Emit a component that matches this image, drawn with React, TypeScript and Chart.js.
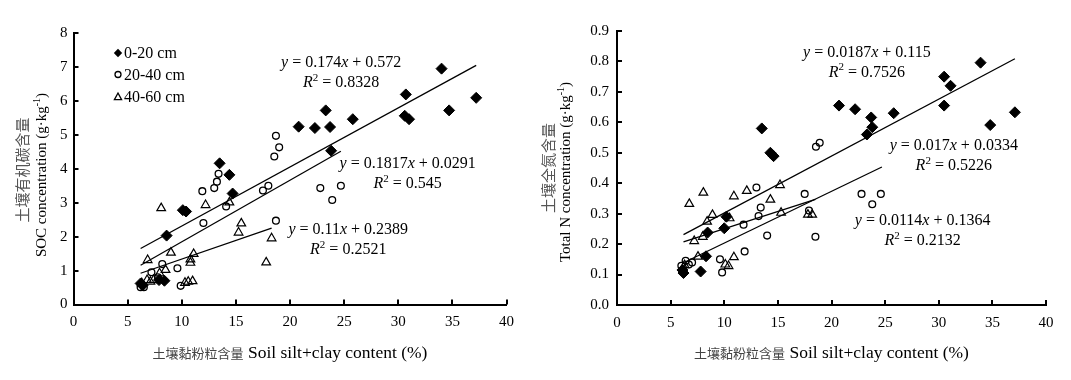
import React, { useEffect, useRef } from 'react';
import { Chart, registerables } from 'chart.js';

Chart.register(...registerables);

const SERIF = '"Liberation Serif", "Times New Roman", serif';
const CJK = '"Noto Sans CJK SC", "Noto Sans CJK TC", sans-serif';

// ---------- data ----------
const depthLabels = ['0-20 cm', '20-40 cm', '40-60 cm'];

// Soil organic carbon (g·kg-1) vs silt+clay content (%)
const socX020 = [6.2, 6.4, 7.9, 8.4, 8.6, 10.1, 10.4, 13.5, 14.4, 14.7, 20.8, 22.3, 23.3, 23.7, 23.8, 25.8, 30.6, 30.7, 31.0, 34.0, 34.7, 37.2];
const socY020 = [0.62, 0.57, 0.72, 0.70, 2.03, 2.78, 2.74, 4.16, 3.82, 3.27, 5.24, 5.20, 5.72, 5.23, 4.53, 5.46, 5.56, 6.19, 5.46, 6.95, 5.72, 6.09];
const socX2040 = [6.2, 6.5, 7.2, 7.8, 8.2, 9.6, 9.9, 11.9, 12.0, 13.0, 13.25, 13.4, 14.1, 17.5, 18.0, 18.55, 18.7, 18.7, 19.0, 22.8, 23.9, 24.7];
const socY2040 = [0.51, 0.51, 0.95, 0.80, 1.19, 1.07, 0.55, 3.34, 2.40, 3.43, 3.62, 3.85, 2.89, 3.36, 3.50, 4.36, 4.97, 2.47, 4.63, 3.43, 3.08, 3.50];
const socX4060 = [6.3, 6.8, 6.85, 7.1, 7.4, 7.95, 8.1, 8.5, 9.0, 10.3, 10.6, 10.8, 10.8, 11.0, 11.1, 12.2, 14.4, 15.25, 15.5, 17.8, 18.3];
const socY4060 = [0.63, 0.72, 1.31, 0.67, 0.72, 0.92, 2.84, 1.02, 1.53, 0.64, 0.67, 1.33, 1.23, 0.69, 1.49, 2.93, 3.01, 2.12, 2.39, 1.24, 1.95];

const socFitSlope = [0.174, 0.1817, 0.11];
const socFitIntercept = [0.572, 0.0291, 0.2389];
const socFitR2 = ['0.8328', '0.545', '0.2521'];
const socFitXStart = [6.2, 6.2, 6.2];
const socFitXEnd = [37.2, 24.7, 18.3];
const socEqAnchorX = [24.73, 30.87, 25.38];
const socEqAnchorY = [7.11, 4.14, 2.195];

// Total N (g·kg-1) vs silt+clay content (%)
const tnX020 = [6.1, 6.2, 7.8, 8.3, 8.45, 10.0, 10.2, 13.5, 14.3, 14.6, 20.7, 22.2, 23.3, 23.7, 23.8, 25.8, 30.5, 30.5, 31.1, 33.9, 34.8, 37.1];
const tnY020 = [0.115, 0.105, 0.11, 0.16, 0.238, 0.252, 0.29, 0.58, 0.50, 0.489, 0.655, 0.643, 0.56, 0.616, 0.584, 0.63, 0.75, 0.655, 0.72, 0.796, 0.591, 0.633];
const tnX2040 = [6.0, 6.4, 6.7, 7.0, 9.6, 9.8, 11.8, 11.9, 13.0, 13.2, 13.4, 14.0, 17.5, 17.9, 18.5, 18.55, 18.9, 22.8, 23.8, 24.6];
const tnY2040 = [0.129, 0.145, 0.133, 0.14, 0.15, 0.107, 0.264, 0.176, 0.386, 0.292, 0.32, 0.228, 0.365, 0.31, 0.224, 0.52, 0.533, 0.365, 0.331, 0.365];
const tnX4060 = [6.3, 6.74, 7.2, 7.55, 8.0, 8.05, 8.4, 8.9, 10.1, 10.4, 10.5, 10.9, 10.9, 12.1, 14.3, 15.2, 15.3, 17.8, 18.2];
const tnY4060 = [0.131, 0.332, 0.21, 0.159, 0.224, 0.369, 0.274, 0.296, 0.133, 0.128, 0.285, 0.357, 0.157, 0.375, 0.346, 0.394, 0.303, 0.297, 0.297];

const tnFitSlope = [0.0187, 0.017, 0.0114];
const tnFitIntercept = [0.115, 0.0334, 0.1364];
const tnFitR2 = ['0.7526', '0.5226', '0.2132'];
const tnFitXStart = [6.2, 6.2, 6.2];
const tnFitXEnd = [37.1, 24.7, 18.5];
const tnEqAnchorX = [23.3, 31.4, 28.5];
const tnEqAnchorY = [0.83, 0.522, 0.277];

const xTitleCn = '土壤黏粉粒含量';
const xTitleEn = ' Soil silt+clay content (%)';

// ---------- helpers ----------
type Seg = { text: string; font: string; dy?: number; color?: string };

function drawRich(ctx: CanvasRenderingContext2D, segs: Seg[], x: number, y: number) {
  let total = 0;
  const widths = segs.map((s) => {
    ctx.font = s.font;
    const w = ctx.measureText(s.text).width;
    total += w;
    return w;
  });
  let cx = x - total / 2;
  ctx.textBaseline = 'middle';
  ctx.textAlign = 'left';
  segs.forEach((s, i) => {
    ctx.font = s.font;
    ctx.fillStyle = s.color || '#000';
    ctx.fillText(s.text, cx, y + (s.dy || 0));
    cx += widths[i];
  });
}

function zip(xs: number[], ys: number[]) {
  return xs.map((x, i) => ({ x, y: ys[i] }));
}

const pointStyles = [
  { pointStyle: 'rectRot', pointRadius: 5.5, backgroundColor: '#000', borderColor: '#000', borderWidth: 1 },
  { pointStyle: 'circle', pointRadius: 3.4, backgroundColor: 'rgba(255,255,255,0)', borderColor: '#000', borderWidth: 1.3 },
  { pointStyle: 'triangle', pointRadius: 5, backgroundColor: 'rgba(255,255,255,0)', borderColor: '#000', borderWidth: 1.2 },
];

type PanelDef = {
  xs: number[][];
  ys: number[][];
  slope: number[];
  intercept: number[];
  r2: string[];
  x0: number[];
  x1: number[];
  eqX: number[];
  eqY: number[];
  yMax: number;
  yStep: number;
  yDecimals: number;
  yTitleCn: string;
  yTitleEn: string;
  legend: boolean;
  width: number;
  padLeftAxis: number;
  padRight: number;
  padTop: number;
  xAxisHeight: number;
  yTickPad: number;
  cnTitleX: number;
  enTitleX: number;
  cnTitleY: number;
  enTitleY: number;
};

function makeDecor(def: PanelDef) {
  return {
    id: 'decor',
    afterDraw(chart: any) {
      const ctx: CanvasRenderingContext2D = chart.ctx;
      const area = chart.chartArea;
      const xs = chart.scales.x;
      const ys = chart.scales.y;
      ctx.save();
      // inward tick marks
      ctx.strokeStyle = '#000';
      ctx.lineWidth = 2;
      ctx.beginPath();
      xs.ticks.forEach((t: any) => {
        const px = Math.round(xs.getPixelForValue(t.value));
        ctx.moveTo(px, area.bottom);
        ctx.lineTo(px, area.bottom - 5);
      });
      ys.ticks.forEach((t: any) => {
        const py = Math.round(ys.getPixelForValue(t.value));
        ctx.moveTo(area.left, py);
        ctx.lineTo(area.left + 5, py);
      });
      ctx.stroke();

      // regression equations
      const eqFont = `16px ${SERIF}`;
      const itFont = `italic 16px ${SERIF}`;
      const supFont = `11px ${SERIF}`;
      def.slope.forEach((m, i) => {
        const px = xs.getPixelForValue(def.eqX[i]);
        const py = ys.getPixelForValue(def.eqY[i]);
        drawRich(ctx, [
          { text: 'y', font: itFont },
          { text: ` = ${String(m)}`, font: eqFont },
          { text: 'x', font: itFont },
          { text: ` + ${String(def.intercept[i])}`, font: eqFont },
        ], px, py);
        drawRich(ctx, [
          { text: 'R', font: itFont },
          { text: '2', font: supFont, dy: -5 },
          { text: ` = ${def.r2[i]}`, font: eqFont },
        ], px, py + 20);
      });

      // legend
      if (def.legend) {
        const mx = area.left + 44.5;
        const rows = [area.top + 20, area.top + 41.5, area.top + 64];
        rows.forEach((ry, i) => {
          ctx.beginPath();
          ctx.lineWidth = 1.3;
          if (i === 0) {
            ctx.moveTo(mx - 4.2, ry);
            ctx.lineTo(mx, ry - 4.2);
            ctx.lineTo(mx + 4.2, ry);
            ctx.lineTo(mx, ry + 4.2);
            ctx.closePath();
            ctx.fillStyle = '#000';
            ctx.fill();
          } else if (i === 1) {
            ctx.arc(mx, ry, 3, 0, Math.PI * 2);
            ctx.stroke();
          } else {
            ctx.moveTo(mx, ry - 4);
            ctx.lineTo(mx + 3.6, ry + 2.6);
            ctx.lineTo(mx - 3.6, ry + 2.6);
            ctx.closePath();
            ctx.stroke();
          }
          ctx.font = `16px ${SERIF}`;
          ctx.fillStyle = '#000';
          ctx.textAlign = 'left';
          ctx.textBaseline = 'middle';
          ctx.fillText(depthLabels[i], mx + 6, ry + 1);
        });
      }

      // x-axis title
      drawRich(ctx, [
        { text: xTitleCn, font: `13px ${CJK}`, color: '#444' },
        { text: xTitleEn, font: `17.5px ${SERIF}` },
      ], (area.left + area.right) / 2, 353);

      // y-axis titles (rotated)
      ctx.save();
      ctx.translate(def.cnTitleX, def.cnTitleY);
      ctx.rotate(-Math.PI / 2);
      drawRich(ctx, [{ text: def.yTitleCn, font: `15px ${CJK}`, color: '#555' }], 0, 0);
      ctx.restore();
      ctx.save();
      ctx.translate(def.enTitleX, def.enTitleY);
      ctx.rotate(-Math.PI / 2);
      drawRich(ctx, [
        { text: def.yTitleEn + ' (g·kg', font: `15px ${SERIF}` },
        { text: '-1', font: `10px ${SERIF}`, dy: -5 },
        { text: ')', font: `15px ${SERIF}` },
      ], 0, 0);
      ctx.restore();
      ctx.restore();
    },
  };
}

function buildConfig(def: PanelDef): any {
  const scatterSets = def.xs.map((xArr, i) => ({
    type: 'scatter',
    label: depthLabels[i],
    data: zip(xArr, def.ys[i]),
    ...pointStyles[i],
    order: 1,
  }));
  const fitSets = def.slope.map((m, i) => ({
    type: 'line',
    label: `fit ${depthLabels[i]}`,
    data: [
      { x: def.x0[i], y: m * def.x0[i] + def.intercept[i] },
      { x: def.x1[i], y: m * def.x1[i] + def.intercept[i] },
    ],
    borderColor: '#000',
    borderWidth: 1.3,
    pointRadius: 0,
    fill: false,
    showLine: true,
    order: 2,
  }));
  return {
    type: 'scatter',
    data: { datasets: [...scatterSets, ...fitSets] },
    options: {
      animation: false,
      responsive: false,
      devicePixelRatio: 1,
      layout: { padding: { left: 0, right: def.padRight, top: def.padTop, bottom: 0 } },
      plugins: { legend: { display: false }, tooltip: { enabled: false } },
      scales: {
        x: {
          type: 'linear',
          min: 0,
          max: 40,
          ticks: { stepSize: 5, color: '#000', font: { family: SERIF, size: 15 }, padding: 9, maxRotation: 0 },
          grid: { drawOnChartArea: false, drawTicks: false },
          border: { display: true, color: '#000', width: 2 },
          afterFit: (s: any) => { s.height = def.xAxisHeight; },
        },
        y: {
          type: 'linear',
          min: 0,
          max: def.yMax,
          ticks: {
            stepSize: def.yStep,
            color: '#000',
            font: { family: SERIF, size: 15 },
            padding: def.yTickPad,
            callback: (v: any) => Number(v).toFixed(def.yDecimals),
          },
          grid: { drawOnChartArea: false, drawTicks: false },
          border: { display: true, color: '#000', width: 2 },
          afterFit: (s: any) => { s.width = def.padLeftAxis; },
        },
      },
    },
    plugins: [makeDecor(def)],
  };
}

const leftDef: PanelDef = {
  xs: [socX020, socX2040, socX4060],
  ys: [socY020, socY2040, socY4060],
  slope: socFitSlope,
  intercept: socFitIntercept,
  r2: socFitR2,
  x0: socFitXStart,
  x1: socFitXEnd,
  eqX: socEqAnchorX,
  eqY: socEqAnchorY,
  yMax: 8,
  yStep: 1,
  yDecimals: 0,
  yTitleCn: '土壤有机碳含量',
  yTitleEn: 'SOC concentration',
  legend: true,
  width: 540,
  padLeftAxis: 73.5,
  padRight: 33.5,
  padTop: 33,
  xAxisHeight: 75.5,
  yTickPad: 6,
  cnTitleX: 22,
  enTitleX: 42,
  cnTitleY: 170,
  enTitleY: 175,
};

const rightDef: PanelDef = {
  xs: [tnX020, tnX2040, tnX4060],
  ys: [tnY020, tnY2040, tnY4060],
  slope: tnFitSlope,
  intercept: tnFitIntercept,
  r2: tnFitR2,
  x0: tnFitXStart,
  x1: tnFitXEnd,
  eqX: tnEqAnchorX,
  eqY: tnEqAnchorY,
  yMax: 0.9,
  yStep: 0.1,
  yDecimals: 1,
  yTitleCn: '土壤全氮含量',
  yTitleEn: 'Total N concentration',
  legend: false,
  width: 531,
  padLeftAxis: 77,
  padRight: 25,
  padTop: 31,
  xAxisHeight: 75,
  yTickPad: 8,
  cnTitleX: 8,
  enTitleX: 26,
  cnTitleY: 168,
  enTitleY: 172,
};

function Panel({ def, left }: { def: PanelDef; left: number }) {
  const ref = useRef<HTMLCanvasElement | null>(null);
  useEffect(() => {
    if (!ref.current) return;
    const chart = new Chart(ref.current, buildConfig(def));
    return () => chart.destroy();
  }, [def]);
  return (
    <canvas
      ref={ref}
      width={def.width}
      height={380}
      style={{ position: 'absolute', left, top: 0, width: def.width, height: 380 }}
    />
  );
}

export default function App() {
  return (
    <div style={{ position: 'absolute', left: 0, top: 0, width: 1071, height: 380, background: '#fff' }}>
      <Panel def={leftDef} left={0} />
      <Panel def={rightDef} left={540} />
    </div>
  );
}
